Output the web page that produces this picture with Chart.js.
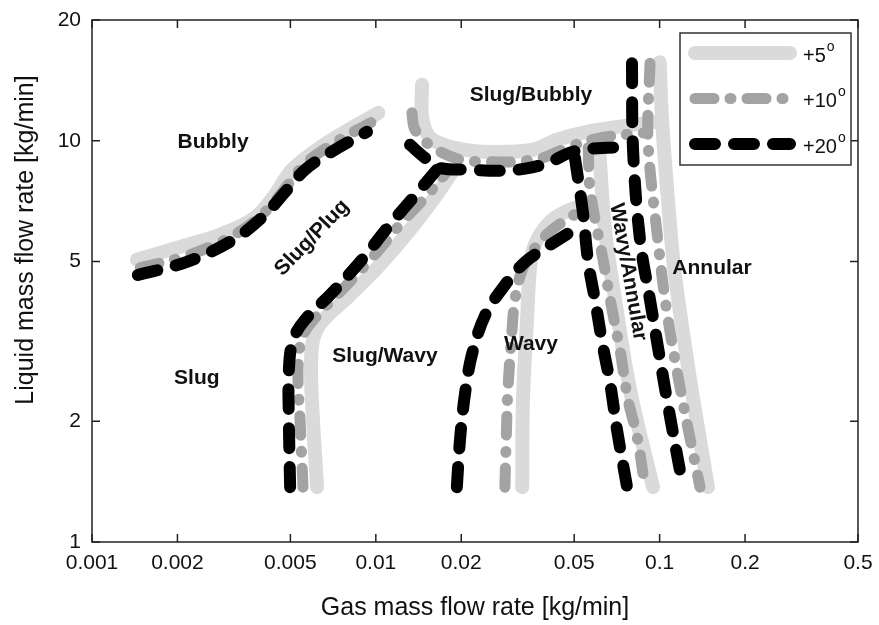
<!DOCTYPE html>
<html>
<head>
<meta charset="utf-8">
<script src="https://cdn.jsdelivr.net/npm/chart.js@4.4.1/dist/chart.umd.min.js"></script>
<style>
html,body{margin:0;padding:0;background:#fff;}
canvas{display:block;}
</style>
</head>
<body>
<canvas id="c" width="879" height="625"></canvas>
<script>
// ---------- axis ticks ----------
const xTicks = [0.001, 0.002, 0.005, 0.01, 0.02, 0.05, 0.1, 0.2, 0.5];
const xTickLabels = ['0.001', '0.002', '0.005', '0.01', '0.02', '0.05', '0.1', '0.2', '0.5'];
const yTicks = [1, 2, 5, 10, 20];
const yTickLabels = ['1', '2', '5', '10', '20'];

// ---------- series labels ----------
const angleLabels = ['+5', '+10', '+20'];

// ---------- boundaries: [gas kg/min, liquid kg/min] ----------
// Bubbly / Slug-Plug boundary
const bubbly5  = [[0.00144,5.05],[0.00204,5.44],[0.00282,5.83],[0.00375,6.43],[0.00441,7.33],[0.00499,8.37],[0.00586,9.23],[0.00748,10.35],[0.0102,11.74]];
const bubbly10 = [[0.00148,4.83],[0.00216,5.17],[0.00314,5.80],[0.00407,6.65],[0.00487,7.72],[0.00563,8.76],[0.00718,9.89],[0.0097,11.15]];
const bubbly20 = [[0.00145,4.63],[0.00216,4.99],[0.00314,5.66],[0.0040,6.47],[0.00487,7.55],[0.00563,8.47],[0.0069,9.34],[0.00931,10.53]];

// Slug / Slug-Plug / Slug-Wavy boundary
const slug5  = [[0.00621,1.37],[0.00601,2.0],[0.00591,2.69],[0.00601,3.19],[0.00646,3.54],[0.00798,4.08],[0.01035,4.91],[0.0132,6.0],[0.0162,7.25],[0.0186,8.37]];
const slug10 = [[0.00554,1.37],[0.00541,2.0],[0.00532,2.69],[0.0055,3.23],[0.00611,3.62],[0.00748,4.2],[0.0097,5.11],[0.0124,6.28],[0.0152,7.33],[0.0178,8.37]];
const slug20 = [[0.00499,1.37],[0.00494,2.0],[0.00494,2.69],[0.00511,3.19],[0.00563,3.58],[0.0069,4.13],[0.0088,4.99],[0.0112,6.17],[0.0138,7.33],[0.0164,8.47]];

// Slug/Bubbly lower boundary
const slugBubbly5  = [[0.01455,13.8],[0.01455,11.5],[0.0155,10.2],[0.0183,9.66],[0.0239,9.39],[0.0358,9.5],[0.0435,10.06],[0.0555,10.53],[0.0806,10.96],[0.0963,11.15]];
const slugBubbly10 = [[0.0134,11.74],[0.01375,10.65],[0.0158,9.66],[0.0198,8.97],[0.0253,8.87],[0.0309,8.87],[0.0388,9.07],[0.0472,9.61],[0.0617,10.17],[0.0888,10.47]];
const slugBubbly20 = [[0.0132,9.77],[0.0149,9.07],[0.0168,8.56],[0.0215,8.47],[0.0274,8.42],[0.0336,8.52],[0.0405,8.81],[0.0483,9.34],[0.0569,9.55],[0.0787,9.66]];

// Wavy / Wavy-Annular boundary
const wavyAnnular5  = [[0.0607,10.53],[0.0642,6.0],[0.0697,4.01],[0.0787,2.39],[0.0948,1.37]];
const wavyAnnular10 = [[0.056,9.61],[0.0569,7.55],[0.0632,5.05],[0.068,3.79],[0.0725,3.01],[0.0774,2.26],[0.0833,1.83],[0.0888,1.37]];
const wavyAnnular20 = [[0.0503,9.07],[0.0537,6.61],[0.056,4.99],[0.0592,4.01],[0.0632,3.06],[0.0669,2.49],[0.0708,1.9],[0.0768,1.37]];

// Wavy-Annular / Annular boundary
const annular5  = [[0.1,15.7],[0.102,11.28],[0.107,7.13],[0.113,4.69],[0.128,2.54],[0.148,1.37]];
const annular10 = [[0.0925,15.6],[0.091,10.06],[0.0979,5.9],[0.1062,3.72],[0.1209,2.22],[0.1388,1.37]];
const annular20 = [[0.0799,15.6],[0.0806,9.5],[0.0853,5.66],[0.0925,4.01],[0.1062,2.26],[0.1209,1.37]];

// Slug-Wavy / Wavy boundary
const wavy5  = [[0.0328,1.37],[0.033,2.26],[0.0341,3.58],[0.0352,5.05],[0.037,5.66],[0.0411,6.28],[0.0483,6.73],[0.0617,7.05]];
const wavy10 = [[0.0285,1.37],[0.0288,1.8],[0.0292,2.39],[0.0302,3.38],[0.0309,4.01],[0.0328,4.77],[0.0364,5.41],[0.0418,6.0],[0.0512,6.61],[0.0569,6.93]];
const wavy20 = [[0.0193,1.37],[0.0198,1.8],[0.0206,2.33],[0.0218,2.93],[0.0243,3.68],[0.0285,4.37],[0.0336,4.99],[0.0411,5.5],[0.0512,6.07]];

// ---------- region annotations ----------
const regionText   = ['Bubbly', 'Slug/Bubbly', 'Slug/Plug', 'Slug/Wavy', 'Slug', 'Wavy', 'Wavy/Annular', 'Annular'];
const regionGas    = [0.00267, 0.0352, 0.00596, 0.01077, 0.00234, 0.0352, 0.0774, 0.153];
const regionLiquid = [9.9, 13.0, 5.73, 2.91, 2.56, 3.12, 4.71, 4.82];
const regionAngle  = [0, 0, -46, 0, 0, 0, 80, 0];

// ---------- build datasets ----------
const FONT = "'Liberation Sans', Arial, sans-serif";
const groups = [
  [bubbly5, slug5, slugBubbly5, wavyAnnular5, annular5, wavy5],
  [bubbly10, slug10, slugBubbly10, wavyAnnular10, annular10, wavy10],
  [bubbly20, slug20, slugBubbly20, wavyAnnular20, annular20, wavy20]
];
const styles = [
  {color: '#dadada', width: 14, dash: [], order: 2},
  {color: '#a3a3a3', width: 11, dash: [19, 16, 1, 16], order: 1},
  {color: '#000000', width: 12, dash: [20, 19], order: 0}
];
const datasets = [];
groups.forEach((curves, g) => {
  curves.forEach((curve, i) => {
    datasets.push({
      label: i === 0 ? angleLabels[g] : '',
      data: curve.map(p => ({x: p[0], y: p[1]})),
      showLine: true,
      pointRadius: 0,
      pointHoverRadius: 0,
      borderColor: styles[g].color,
      borderWidth: styles[g].width,
      borderDash: styles[g].dash,
      borderCapStyle: 'round',
      borderJoinStyle: 'round',
      tension: 0.35,
      fill: false,
      order: styles[g].order
    });
  });
});

// ---------- plugins ----------
const framePlugin = {
  id: 'frame',
  afterDraw(chart) {
    const {ctx, chartArea: a, scales: {x, y}} = chart;
    ctx.save();
    ctx.strokeStyle = '#222';
    ctx.lineWidth = 1.5;
    ctx.setLineDash([]);
    ctx.strokeRect(a.left, a.top, a.right - a.left, a.bottom - a.top);
    const L = 8;
    ctx.beginPath();
    xTicks.forEach(v => {
      const px = x.getPixelForValue(v);
      ctx.moveTo(px, a.bottom); ctx.lineTo(px, a.bottom - L);
      ctx.moveTo(px, a.top); ctx.lineTo(px, a.top + L);
    });
    yTicks.forEach(v => {
      const py = y.getPixelForValue(v);
      ctx.moveTo(a.left, py); ctx.lineTo(a.left + L, py);
      ctx.moveTo(a.right, py); ctx.lineTo(a.right - L, py);
    });
    ctx.stroke();
    // y-axis title
    ctx.fillStyle = '#111';
    ctx.font = '25px ' + FONT;
    ctx.textAlign = 'center';
    ctx.textBaseline = 'middle';
    ctx.translate(26, 240);
    ctx.rotate(-Math.PI / 2);
    ctx.fillText('Liquid mass flow rate [kg/min]', 0, 0);
    ctx.restore();
  }
};

const regionPlugin = {
  id: 'regions',
  afterDatasetsDraw(chart) {
    const {ctx, scales: {x, y}} = chart;
    ctx.save();
    ctx.fillStyle = '#111';
    ctx.font = 'bold 21px ' + FONT;
    ctx.textAlign = 'center';
    ctx.textBaseline = 'middle';
    regionText.forEach((t, i) => {
      ctx.save();
      ctx.translate(x.getPixelForValue(regionGas[i]), y.getPixelForValue(regionLiquid[i]));
      ctx.rotate(regionAngle[i] * Math.PI / 180);
      ctx.fillText(t, 0, 0);
      ctx.restore();
    });
    ctx.restore();
  }
};

const legendPlugin = {
  id: 'boxLegend',
  afterDraw(chart) {
    const {ctx, chartArea: a} = chart;
    const bx = a.right - 178, by = a.top + 13, bw = 171, bh = 132;
    ctx.save();
    ctx.fillStyle = '#fff';
    ctx.fillRect(bx, by, bw, bh);
    ctx.strokeStyle = '#333';
    ctx.lineWidth = 1.5;
    ctx.strokeRect(bx, by, bw, bh);
    const items = chart.data.datasets.filter(d => d.label);
    items.forEach((d, i) => {
      const yy = by + 20 + i * 45.5;
      ctx.beginPath();
      ctx.strokeStyle = d.borderColor;
      ctx.lineWidth = d.borderWidth;
      ctx.lineCap = 'round';
      ctx.setLineDash(d.borderDash || []);
      ctx.moveTo(bx + 15, yy);
      ctx.lineTo(bx + 110, yy);
      ctx.stroke();
      ctx.setLineDash([]);
      ctx.fillStyle = '#111';
      ctx.font = '20px ' + FONT;
      ctx.textAlign = 'left';
      ctx.textBaseline = 'middle';
      ctx.fillText(d.label, bx + 123, yy + 3);
      const w = ctx.measureText(d.label).width;
      ctx.font = '14px ' + FONT;
      ctx.fillText('o', bx + 123 + w + 1, yy - 6);
    });
    ctx.restore();
  }
};

Chart.defaults.font.family = FONT;

new Chart(document.getElementById('c'), {
  type: 'scatter',
  data: {datasets},
  options: {
    responsive: false,
    animation: false,
    devicePixelRatio: 1,
    layout: {padding: {top: 20, right: 21, left: 0, bottom: 0}},
    plugins: {legend: {display: false}, tooltip: {enabled: false}},
    scales: {
      x: {
        type: 'logarithmic',
        min: 0.001,
        max: 0.5,
        afterBuildTicks: s => { s.ticks = xTicks.map(v => ({value: v})); },
        afterFit: s => { s.height = 83; s.paddingLeft = 0; s.paddingRight = 0; },
        ticks: {
          callback: (v, i) => xTickLabels[i],
          font: {size: 21},
          color: '#111',
          padding: 9,
          maxRotation: 0,
          minRotation: 0,
          autoSkip: false
        },
        grid: {display: false, drawTicks: false},
        border: {display: false},
        title: {display: true, text: 'Gas mass flow rate [kg/min]', font: {size: 25}, color: '#111', padding: {top: 0, bottom: 2}}
      },
      y: {
        type: 'logarithmic',
        min: 1,
        max: 20,
        afterBuildTicks: s => { s.ticks = yTicks.map(v => ({value: v})); },
        afterFit: s => { s.width = 92; s.paddingTop = 0; s.paddingBottom = 0; },
        ticks: {
          callback: (v, i) => yTickLabels[i],
          font: {size: 21},
          color: '#111',
          padding: 11,
          autoSkip: false
        },
        grid: {display: false, drawTicks: false},
        border: {display: false}
      }
    }
  },
  plugins: [regionPlugin, framePlugin, legendPlugin]
});
</script>
</body>
</html>
